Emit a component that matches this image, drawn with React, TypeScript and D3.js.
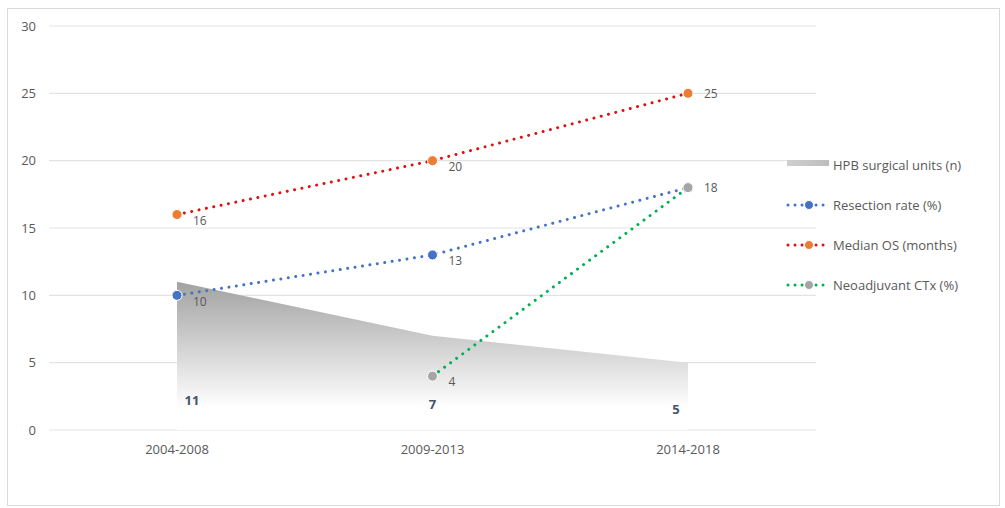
import * as d3 from "d3";

const categories = ["2004-2008", "2009-2013", "2014-2018"];
const hpbUnits = [11, 7, 5];
const resectionRate = [10, 13, 18];
const medianOS = [16, 20, 25];
const neoadjuvant: (number | null)[] = [null, 4, 18];
const yTicks = [0, 5, 10, 15, 20, 25, 30];

const WIDTH = 1005;
const HEIGHT = 508;
const FONT = "'Open Sans', 'Noto Sans', sans-serif";
const TEXT = "#595959";

interface LineSeries {
  name: string;
  values: (number | null)[];
  line: string;
  marker: string;
}

const lineSeries: LineSeries[] = [
  { name: "Resection rate (%)", values: resectionRate, line: "#4472c4", marker: "#4472c4" },
  { name: "Median OS (months)", values: medianOS, line: "#e01010", marker: "#ed7d31" },
  { name: "Neoadjuvant CTx (%)", values: neoadjuvant, line: "#00b050", marker: "#a5a5a5" },
];

export default function App() {
  const x = d3.scalePoint<string>().domain(categories).range([177, 688]);
  const y = d3.scaleLinear().domain([0, 30]).range([430, 26]);
  const gridLeft = 49;
  const gridRight = 816;

  const area = d3
    .area<number>()
    .x((_, i) => x(categories[i])!)
    .y0(y(0))
    .y1((d) => y(d));

  const line = d3
    .line<number | null>()
    .defined((d) => d !== null)
    .x((_, i) => x(categories[i])!)
    .y((d) => y(d as number));

  // small offsets for the value labels (Excel-like "inside base" placement)
  const unitLabelDy = [-30, -26, -21];
  const unitLabelDx = [15, 0, -12];

  const legendX = 787;
  const legendRows = [165, 205, 245, 285];

  // labels already drawn at a position, so overlapping equal labels are drawn once
  const seen = new Set<string>();

  return (
    <svg
      width={WIDTH}
      height={HEIGHT}
      style={{ position: "absolute", left: 0, top: 0, background: "#fff" }}
      fontFamily={FONT}
    >
      <defs>
        <linearGradient id="hpbGrad" x1="0" y1="0" x2="0" y2="1" gradientUnits="objectBoundingBox">
          <stop offset="0" stopColor="#a2a2a2" />
          <stop offset="0.85" stopColor="#ffffff" />
          <stop offset="1" stopColor="#ffffff" />
        </linearGradient>
        <linearGradient id="legGrad" x1="0" y1="0" x2="1" y2="0">
          <stop offset="0" stopColor="#cfcfcf" />
          <stop offset="1" stopColor="#bdbdbd" />
        </linearGradient>
      </defs>

      <rect x={7.5} y={8.5} width={992} height={497} fill="#fff" stroke="#d9d9d9" />

      {yTicks.map((t) => (
        <g key={t}>
          <line x1={gridLeft} x2={gridRight} y1={y(t)} y2={y(t)} stroke="#e3e3e3" strokeWidth={1.2} />
          <text x={36} y={y(t)} dy="0.35em" textAnchor="end" fontSize={13} fill={TEXT}>
            {t}
          </text>
        </g>
      ))}

      <path d={area(hpbUnits) || ""} fill="url(#hpbGrad)" />

      {categories.map((c) => (
        <text key={c} x={x(c)} y={454} textAnchor="middle" fontSize={13} fill={TEXT}>
          {c}
        </text>
      ))}

      {hpbUnits.map((v, i) => (
        <text
          key={i}
          x={x(categories[i])! + unitLabelDx[i]}
          y={y(0) + unitLabelDy[i]}
          dy="0.35em"
          textAnchor="middle"
          fontSize={13}
          fontWeight="bold"
          fill="#44546a"
        >
          {v}
        </text>
      ))}

      {lineSeries.map((s) => (
        <path
          key={s.name}
          d={line(s.values) || ""}
          fill="none"
          stroke={s.line}
          strokeWidth={3}
          strokeLinecap="round"
          strokeDasharray="0.01 7.5"
        />
      ))}

      {lineSeries.map((s) =>
        s.values.map((v, i) => {
          if (v === null) return null;
          const key = `${i}-${v}`;
          const showLabel = !seen.has(key);
          seen.add(key);
          return (
            <g key={s.name + i}>
              <circle cx={x(categories[i])} cy={y(v)} r={5} fill={s.marker} stroke="#fff" strokeWidth={1} />
              {showLabel && (
                <text
                  x={x(categories[i])! + 16}
                  y={y(v) + (i === 2 ? 0 : 6)}
                  dy="0.35em"
                  fontSize={12}
                  fill={TEXT}
                >
                  {v}
                </text>
              )}
            </g>
          );
        })
      )}

      {/* legend */}
      <rect x={legendX} y={legendRows[0] - 5} width={42} height={6} fill="url(#legGrad)" />
      <text x={833} y={legendRows[0]} dy="0.35em" fontSize={13} fill={TEXT}>
        HPB surgical units (n)
      </text>
      {lineSeries.map((s, k) => {
        const ly = legendRows[k + 1];
        return (
          <g key={s.name}>
            <line
              x1={legendX + 1}
              x2={legendX + 43}
              y1={ly}
              y2={ly}
              stroke={s.line}
              strokeWidth={3}
              strokeLinecap="round"
              strokeDasharray="0.01 7"
            />
            <circle cx={legendX + 22} cy={ly} r={4.5} fill={s.marker} stroke="#fff" strokeWidth={1} />
            <text x={833} y={ly} dy="0.35em" fontSize={13} fill={TEXT}>
              {s.name}
            </text>
          </g>
        );
      })}
    </svg>
  );
}
